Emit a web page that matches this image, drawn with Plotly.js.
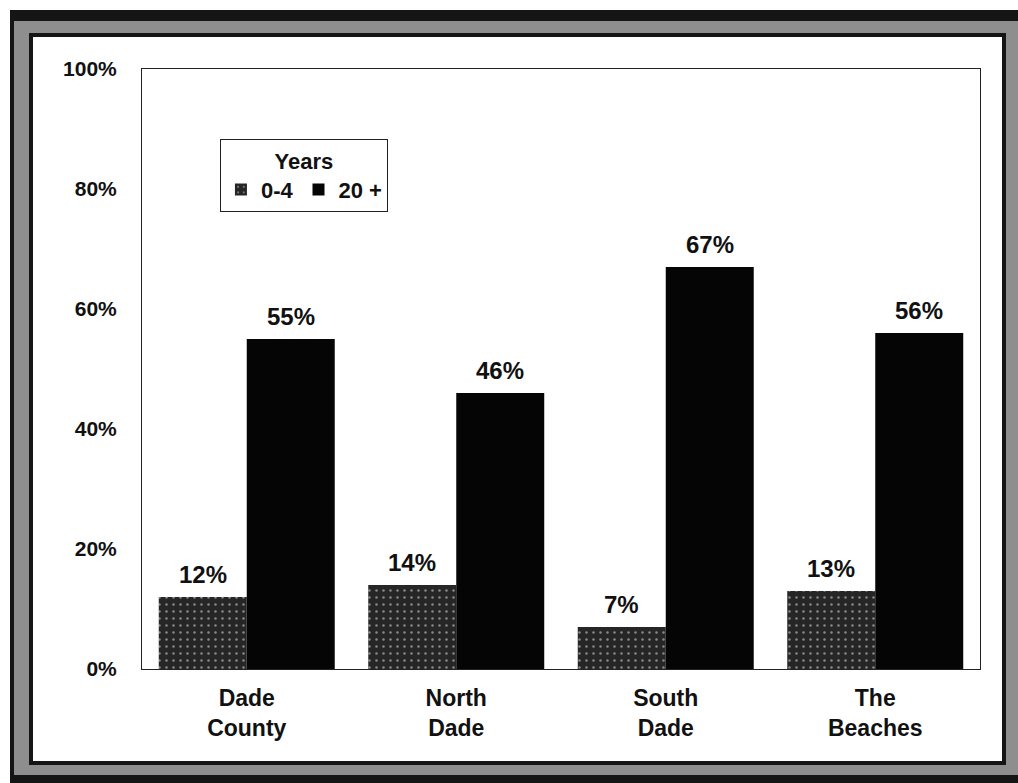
<!DOCTYPE html>
<html>
<head>
<meta charset="utf-8">
<script src="https://cdn.plot.ly/plotly-3.0.1.min.js"></script>
<style>
  html, body { margin: 0; padding: 0; background: #ffffff; }
  #stage { position: relative; width: 1018px; height: 783px; overflow: hidden; }
  #outer { position: absolute; left: 10px; top: 10px; width: 1008px; height: 773px;
           box-sizing: border-box; background: #8e8e8e;
           border-top: 11px solid #151515; border-left: 4px solid #151515;
           border-bottom: 8px solid #151515; border-right: 0; }
  #inner { position: absolute; left: 29px; top: 33px; width: 977px; height: 732px;
           box-sizing: border-box; background: #ffffff; border: 4px solid #151515; }
  #chart { position: absolute; left: 0; top: 0; width: 1018px; height: 783px; }
</style>
</head>
<body>
<div id="stage">
  <div id="outer"></div>
  <div id="inner"></div>
  <div id="chart"></div>
</div>
<script>
const categories = ["Dade<br>County", "North<br>Dade", "South<br>Dade", "The<br>Beaches"];
const years0to4 = [12, 14, 7, 13];
const years20plus = [55, 46, 67, 56];
const yTicks = [0, 20, 40, 60, 80, 100];
const yTickLabels = ["0%", "20%", "40%", "60%", "80%", "100%"];
const seriesNames = ["0-4", "20 +"];

const FONT = "'Liberation Sans', Arial, Helvetica, sans-serif";
const INK = "#111111";

const traces = [
  {
    type: "bar", name: seriesNames[0], x: categories, y: years0to4,
    offsetgroup: "a",
    marker: { color: "#2b2b2b", line: { width: 0 },
              pattern: { shape: ".", fgcolor: "#8a8a8a", bgcolor: "#262626", size: 7, solidity: 0.1 } }
  },
  {
    type: "bar", name: seriesNames[1], x: categories, y: years20plus,
    offsetgroup: "b",
    marker: { color: "#050505", line: { width: 0 } }
  }
];

// value labels, placed through the axes' own scales
const annotations = [];
const groupShift = 0.21; // half of a bar width in category units
categories.forEach((c, i) => {
  annotations.push({ x: i - groupShift, y: years0to4[i], xref: "x", yref: "y",
    text: years0to4[i] + "%", showarrow: false, yanchor: "bottom", yshift: 7,
    font: { family: FONT, size: 24, color: INK, weight: "bold" } });
  annotations.push({ x: i + groupShift, y: years20plus[i], xref: "x", yref: "y",
    text: years20plus[i] + "%", showarrow: false, yanchor: "bottom", yshift: 7,
    font: { family: FONT, size: 24, color: INK, weight: "bold" } });
});

const layout = {
  width: 1018, height: 783,
  margin: { l: 142, r: 38, t: 69, b: 114 },
  paper_bgcolor: "rgba(0,0,0,0)",
  plot_bgcolor: "#ffffff",
  font: { family: FONT, size: 22, color: INK, weight: "bold" },
  barmode: "group", bargap: 0.16, bargroupgap: 0,
  showlegend: true,
  annotations: annotations,
  legend: {
    orientation: "h", x: 0.093, y: 0.883, xanchor: "left", yanchor: "top",
    bgcolor: "#ffffff", bordercolor: "#222", borderwidth: 1,
    font: { family: FONT, size: 22, color: INK, weight: "bold" },
    title: { text: "Years", side: "top center", font: { family: FONT, size: 22, color: INK, weight: "bold" } },
    traceorder: "normal", itemwidth: 30
  },
  xaxis: {
    type: "category", showgrid: false, zeroline: false,
    showline: true, linecolor: "#222", linewidth: 1, mirror: true,
    ticks: "", tickfont: { family: FONT, size: 23, color: INK, weight: "bold" },
    ticklabelstandoff: 8
  },
  yaxis: {
    range: [0, 100], tickvals: yTicks, ticktext: yTickLabels,
    showgrid: false, zeroline: false,
    showline: true, linecolor: "#222", linewidth: 1, mirror: true,
    ticks: "", tickfont: { family: FONT, size: 21, color: INK, weight: "bold" },
    ticklabelstandoff: 20
  }
};

Plotly.newPlot("chart", traces, layout, { displayModeBar: false, staticPlot: true });
</script>
</body>
</html>
